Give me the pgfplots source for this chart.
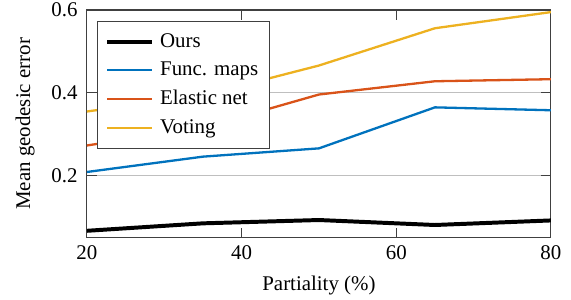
\documentclass[border=0pt]{standalone}
\usepackage{fontspec}
\setmainfont{Liberation Serif}
\usepackage{pgfplots}
\pgfplotsset{compat=1.18}
\definecolor{mblue}{rgb}{0,0.447,0.741}
\definecolor{morange}{rgb}{0.85,0.325,0.098}
\definecolor{myellow}{rgb}{0.929,0.694,0.125}
\definecolor{axgray}{rgb}{0.25,0.25,0.25}
\begin{document}
\begin{tikzpicture}
\begin{axis}[
  scale only axis,
  width=222pt, height=109pt,
  xmin=20, xmax=80, ymin=0.05, ymax=0.6,
  xtick={20,40,60,80},
  ytick={0.2,0.4,0.6},
  yticklabel style={/pgf/number format/fixed,/pgf/number format/precision=1, xshift=-1pt},
  /pgf/number format/assume math mode=true,
  tick align=inside,
  major tick length=4.8pt,
  tick style={color=axgray, line width=0.5pt},
  axis line style={color=axgray, line width=0.5pt},
  ymajorgrids,
  grid style={color=black!25, line width=0.5pt},
  xlabel={Partiality (\%)},
  ylabel={Mean geodesic error},
  xlabel style={at={(axis description cs:0.5,-0.21)}, anchor=center},
  ylabel style={at={(axis description cs:-0.1333,0.5)}, anchor=center},
  legend style={at={(0.0216,0.951)}, anchor=north west, draw=axgray, fill=white,
    line width=0.5pt, font=\normalsize, row sep=1.6pt, inner xsep=3.6pt, inner ysep=3.5pt},
  legend cell align=left,
  legend image code/.code={\draw[#1] (0cm,0cm) -- (0.75cm,0cm); \path (0.79cm,0cm);},
]
\addplot[black, line width=1.9pt] coordinates {(20,0.067) (35,0.085) (50,0.093) (65,0.081) (80,0.092)};
\addlegendentry{Ours}
\addplot[mblue, line width=1.1pt] coordinates {(20,0.209) (35,0.246) (50,0.266) (65,0.365) (80,0.358)};
\addlegendentry{Func. maps\hspace{3.5pt}}
\addplot[morange, line width=1.1pt] coordinates {(20,0.273) (35,0.316) (50,0.396) (65,0.428) (80,0.433)};
\addlegendentry{Elastic net}
\addplot[myellow, line width=1.1pt] coordinates {(20,0.355) (35,0.394) (50,0.466) (65,0.556) (80,0.595)};
\addlegendentry{Voting}
\coordinate (sw) at (rel axis cs:0,0);
\coordinate (ne) at (rel axis cs:1,1);
\end{axis}
\pgfresetboundingbox
\path ([xshift=-41.6pt,yshift=-29.6pt]sw) rectangle ([xshift=9.6pt,yshift=4.8pt]ne);
\end{tikzpicture}
\end{document}
